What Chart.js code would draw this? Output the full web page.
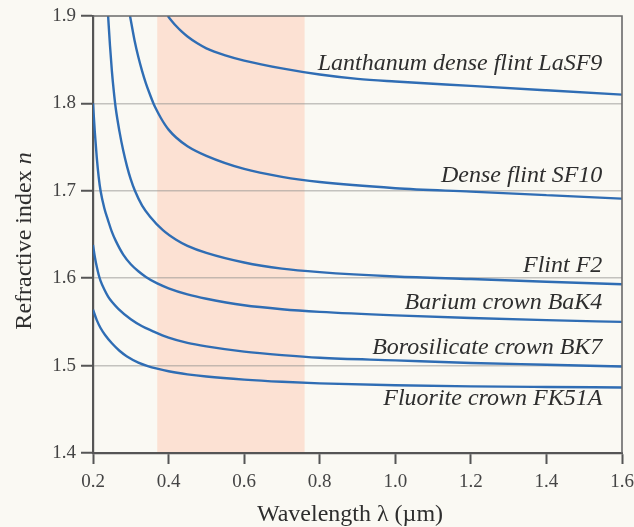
<!DOCTYPE html>
<html>
<head>
<meta charset="utf-8">
<script src="https://cdn.jsdelivr.net/npm/chart.js@4.4.0/dist/chart.umd.min.js"></script>
<style>
  html, body { margin: 0; padding: 0; background: #faf9f3; }
  #wrap { width: 634px; height: 527px; }
</style>
</head>
<body>
<div id="wrap"><canvas id="glassChart" width="634" height="527"></canvas></div>
<script>
// ── DATI ─────────────────────────────────────
const glassNames = [
  'Lanthanum dense flint LaSF9',
  'Dense flint SF10',
  'Flint F2',
  'Barium crown BaK4',
  'Borosilicate crown BK7',
  'Fluorite crown FK51A'
];

// wavelength (µm) / refractive index
const lasf9X = [0.398, 0.41, 0.42, 0.435, 0.45, 0.475, 0.5, 0.55, 0.6, 0.7, 0.8, 0.9, 1.0, 1.2, 1.4, 1.6];
const lasf9Y = [1.900, 1.8935, 1.8885, 1.882, 1.8765, 1.869, 1.863, 1.855, 1.849, 1.840, 1.833, 1.828, 1.825, 1.820, 1.815, 1.810];

const sf10X = [0.298, 0.31, 0.32, 0.33, 0.34, 0.35, 0.36, 0.37, 0.38, 0.39, 0.4, 0.42, 0.45, 0.5, 0.6, 0.7, 0.8, 1.0, 1.2, 1.4, 1.6];
const sf10Y = [1.900, 1.872, 1.853, 1.837, 1.823, 1.811, 1.800, 1.791, 1.783, 1.776, 1.770, 1.761, 1.751, 1.740, 1.725, 1.716, 1.710, 1.703, 1.699, 1.695, 1.691];

const f2X = [0.24, 0.245, 0.25, 0.255, 0.26, 0.27, 0.28, 0.29, 0.3, 0.311, 0.33, 0.35, 0.385, 0.42, 0.45, 0.5, 0.6, 0.7, 0.8, 1.0, 1.2, 1.4, 1.6];
const f2Y = [1.900, 1.866, 1.837, 1.814, 1.795, 1.768, 1.746, 1.728, 1.713, 1.700, 1.683, 1.671, 1.655, 1.644, 1.637, 1.629, 1.618, 1.611, 1.607, 1.602, 1.599, 1.596, 1.593];

const bak4X = [0.2, 0.205, 0.21, 0.215, 0.22, 0.23, 0.24, 0.25, 0.26, 0.28, 0.3, 0.32, 0.34, 0.37, 0.4, 0.45, 0.5, 0.6, 0.7, 0.8, 1.0, 1.2, 1.4, 1.6];
const bak4Y = [1.800, 1.766, 1.738, 1.716, 1.700, 1.680, 1.666, 1.653, 1.643, 1.627, 1.616, 1.608, 1.6015, 1.594, 1.5885, 1.5815, 1.5765, 1.569, 1.5645, 1.5615, 1.5575, 1.5545, 1.552, 1.550];

const bk7X = [0.2, 0.205, 0.21, 0.215, 0.22, 0.23, 0.24, 0.25, 0.267, 0.3, 0.33, 0.355, 0.4, 0.45, 0.5, 0.6, 0.7, 0.8, 1.0, 1.2, 1.4, 1.6];
const bk7Y = [1.638, 1.624, 1.613, 1.604, 1.597, 1.587, 1.579, 1.573, 1.565, 1.553, 1.545, 1.540, 1.532, 1.526, 1.522, 1.516, 1.512, 1.509, 1.506, 1.503, 1.501, 1.499];

const fk51X = [0.2, 0.21, 0.22, 0.232, 0.25, 0.27, 0.29, 0.32, 0.345, 0.37, 0.4, 0.45, 0.5, 0.6, 0.7, 0.8, 1.0, 1.2, 1.4, 1.6];
const fk51Y = [1.564, 1.552, 1.543, 1.535, 1.5255, 1.517, 1.5105, 1.5035, 1.4995, 1.4965, 1.4935, 1.490, 1.4875, 1.484, 1.4815, 1.4797, 1.4775, 1.4762, 1.4755, 1.475];

// banda del visibile (µm)
const visibleBand = [0.37, 0.76];

const xTicks = [0.2, 0.4, 0.6, 0.8, 1.0, 1.2, 1.4, 1.6];
const yTicks = [1.4, 1.5, 1.6, 1.7, 1.8, 1.9];

// ── STILE ────────────────────────────────────
const LINE_COLOR = '#2f6db4';
const TEXT_DARK = '#2e2e2e';
const AXIS_COLOR = '#555555';
const SERIF = '"Liberation Serif", "DejaVu Serif", serif';

// posizione etichette (x in µm, y in n), allineate a destra
const labelAnchorX = 1.548;
const labelAnchorY = [1.846, 1.717, 1.614, 1.572, 1.521, 1.462];

function toPoints(xs, ys) {
  return xs.map((x, i) => ({ x: x, y: ys[i] }));
}

const seriesList = [
  [lasf9X, lasf9Y], [sf10X, sf10Y], [f2X, f2Y],
  [bak4X, bak4Y], [bk7X, bk7Y], [fk51X, fk51Y]
];

const datasets = seriesList.map((s, i) => ({
  label: glassNames[i],
  data: toPoints(s[0], s[1]),
  borderColor: LINE_COLOR,
  borderWidth: 2.4,
  pointRadius: 0,
  fill: false,
  cubicInterpolationMode: 'monotone'
}));

// ── PLUGIN: sfondo, banda, cornice, testi ────
const decorPlugin = {
  id: 'decor',
  beforeDraw(chart) {
    const { ctx, chartArea: a, scales } = chart;
    ctx.save();
    ctx.fillStyle = '#faf9f3';
    ctx.fillRect(0, 0, chart.width, chart.height);
    const x0 = scales.x.getPixelForValue(visibleBand[0]);
    const x1 = scales.x.getPixelForValue(visibleBand[1]);
    ctx.fillStyle = '#fce1d3';
    ctx.fillRect(x0, a.top, x1 - x0, a.bottom - a.top);
    ctx.restore();
  },
  afterDraw(chart) {
    const { ctx, chartArea: a, scales } = chart;
    ctx.save();
    // cornice alto/destra
    ctx.strokeStyle = '#6a6a6a';
    ctx.lineWidth = 1.6;
    ctx.beginPath();
    ctx.moveTo(a.left, a.top);
    ctx.lineTo(a.right, a.top);
    ctx.lineTo(a.right, a.bottom);
    ctx.stroke();

    // etichette vetri
    ctx.fillStyle = TEXT_DARK;
    ctx.font = 'italic 24px ' + SERIF;
    ctx.textAlign = 'right';
    ctx.textBaseline = 'middle';
    const lx = scales.x.getPixelForValue(labelAnchorX);
    glassNames.forEach((name, i) => {
      ctx.fillText(name, lx, scales.y.getPixelForValue(labelAnchorY[i]));
    });

    // titolo asse x
    ctx.textAlign = 'center';
    ctx.font = '24px ' + SERIF;
    ctx.fillText('Wavelength \u03bb (\u00b5m)', 350, 515);

    // titolo asse y (n in corsivo)
    const part1 = 'Refractive index ';
    const part2 = 'n';
    ctx.font = '24px ' + SERIF;
    const w1 = ctx.measureText(part1).width;
    ctx.font = 'italic 24px ' + SERIF;
    const w2 = ctx.measureText(part2).width;
    ctx.translate(25, 241);
    ctx.rotate(-Math.PI / 2);
    ctx.textAlign = 'left';
    const start = -(w1 + w2) / 2;
    ctx.font = '24px ' + SERIF;
    ctx.fillText(part1, start, 0);
    ctx.font = 'italic 24px ' + SERIF;
    ctx.fillText(part2, start + w1, 0);
    ctx.restore();
  }
};

// ── GRAFICO ──────────────────────────────────
new Chart(document.getElementById('glassChart'), {
  type: 'line',
  data: { datasets: datasets },
  plugins: [decorPlugin],
  options: {
    responsive: false,
    animation: false,
    events: [],
    layout: { padding: { left: 0, right: 12, top: 16, bottom: 0 } },
    plugins: {
      legend: { display: false },
      tooltip: { enabled: false }
    },
    scales: {
      x: {
        type: 'linear',
        min: xTicks[0],
        max: xTicks[xTicks.length - 1],
        afterFit: s => { s.height = 74; s.paddingLeft = 0; s.paddingRight = 0; },
        afterBuildTicks: s => { s.ticks = xTicks.map(v => ({ value: v })); },
        ticks: {
          color: '#444',
          font: { family: SERIF, size: 19 },
          padding: 7,
          callback: v => v.toFixed(1)
        },
        grid: {
          drawOnChartArea: false,
          drawTicks: true,
          tickLength: 11,
          tickWidth: 2,
          tickColor: AXIS_COLOR
        },
        border: { color: AXIS_COLOR, width: 2.2 }
      },
      y: {
        type: 'linear',
        min: yTicks[0],
        max: yTicks[yTicks.length - 1],
        afterFit: s => { s.width = 93; s.paddingTop = 0; s.paddingBottom = 0; },
        afterBuildTicks: s => { s.ticks = yTicks.map(v => ({ value: v })); },
        ticks: {
          color: '#444',
          font: { family: SERIF, size: 19 },
          padding: 5,
          callback: v => v.toFixed(1)
        },
        grid: {
          color: ctx => (ctx.tick && (ctx.tick.value <= 1.4001 || ctx.tick.value >= 1.8999)) ? 'rgba(0,0,0,0)' : 'rgba(150,150,145,0.55)',
          lineWidth: 1.5,
          drawTicks: true,
          tickLength: 12,
          tickWidth: 2,
          tickColor: AXIS_COLOR
        },
        border: { color: AXIS_COLOR, width: 2.2 }
      }
    }
  }
});
</script>
</body>
</html>
